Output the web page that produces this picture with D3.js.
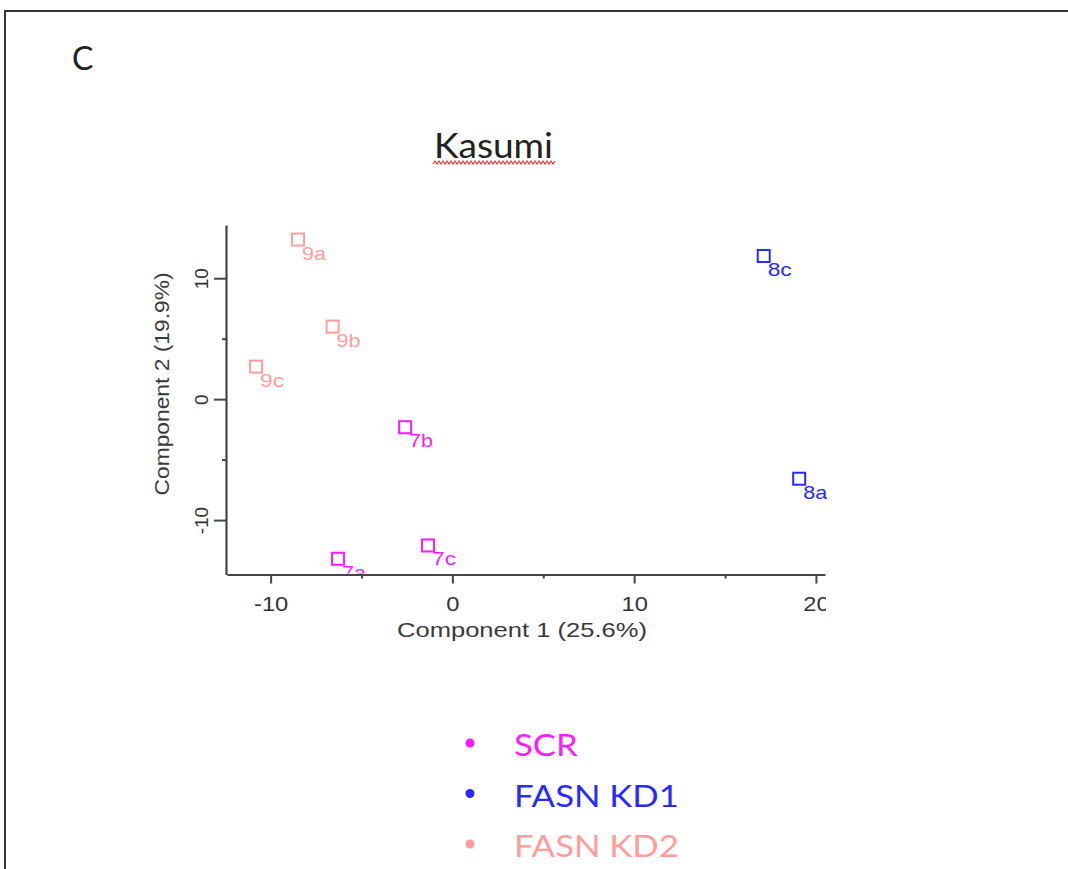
<!DOCTYPE html>
<html>
<head>
<meta charset="utf-8">
<script src="https://cdn.jsdelivr.net/npm/d3@7"></script>
<style>
  body { margin: 0; background: #fff; }
  svg { display: block; }
</style>
</head>
<body>
<div id="chart"></div>
<script>
// PCA scores, Kasumi cells
const sampleNames = ['7a', '7b', '7c', '8a', '8c', '9a', '9b', '9c'];
const sampleGroups = ['SCR', 'SCR', 'SCR', 'FASN KD1', 'FASN KD1', 'FASN KD2', 'FASN KD2', 'FASN KD2'];
const comp1 = [-6.29, -2.6, -1.34, 19.08, 17.13, -8.49, -6.59, -10.8];
const comp2 = [-13.2, -2.32, -12.1, -6.58, 11.84, 13.2, 6.0, 2.69];

const groupNames = ['SCR', 'FASN KD1', 'FASN KD2'];
const groupColors = ['#ff1aff', '#2a2aff', '#ff9d9d'];

const xMajorTicks = [-10, 0, 10, 20];
const xMinorTicks = [-5, 5, 15];
const yMajorTicks = [-10, 0, 10];
const yMinorTicks = [-5, 5];

const width = 1068, height = 869;
const axisColor = '#454545';
const tickFmt = d => String(d); // plain hyphen minus, like the original

// the source image is a little stretched sideways; widen text to match
function stretch(sel, k) {
    sel.each(function () {
        const len = this.getComputedTextLength();
        d3.select(this).attr('textLength', len * k).attr('lengthAdjust', 'spacingAndGlyphs');
    });
}

const svg = d3.select('#chart').append('svg')
    .attr('width', width)
    .attr('height', height);

svg.append('rect').attr('width', width).attr('height', height).attr('fill', '#fff');

// panel frame (only top and left edges are visible)
svg.append('path')
    .attr('d', `M5,${height} V11 H${width}`)
    .attr('fill', 'none')
    .attr('stroke', '#333')
    .attr('stroke-width', 2);

// panel letter
svg.append('text')
    .attr('x', 72).attr('y', 70)
    .attr('font-family', 'Lato, "Open Sans", sans-serif')
    .attr('font-size', 32)
    .attr('fill', '#222')
    .text('C');

// title with spell-check squiggle
svg.append('text')
    .attr('x', 434).attr('y', 158)
    .attr('font-family', 'Lato, "Open Sans", sans-serif')
    .attr('font-size', 34)
    .attr('textLength', 119)
    .attr('lengthAdjust', 'spacingAndGlyphs')
    .attr('fill', '#222')
    .text('Kasumi');

const squiggle = d3.range(433, 557, 2).map((px, i) => [px, i % 2 ? 161 : 164]);
svg.append('path')
    .attr('d', d3.line()(squiggle))
    .attr('fill', 'none')
    .attr('stroke', '#e5383b')
    .attr('stroke-width', 1.2);

// scales
const x = d3.scaleLinear().domain([-12.4, 20.5]).range([227, 825]);
const y = d3.scaleLinear().domain([-14.5, 14.4]).range([574.5, 225]);
const color = d3.scaleOrdinal().domain(groupNames).range(groupColors);

const plotLeft = x.range()[0], plotRight = x.range()[1];
const plotTop = y.range()[1], plotBottom = y.range()[0];

svg.append('clipPath').attr('id', 'plot-clip')
    .append('rect')
    .attr('x', plotLeft).attr('y', plotTop - 20)
    .attr('width', plotRight - plotLeft + 2)
    .attr('height', plotBottom - plotTop + 19);

svg.append('clipPath').attr('id', 'xaxis-clip')
    .append('rect')
    .attr('x', 0).attr('y', -20)
    .attr('width', plotRight + 1).attr('height', height);

// x axis
const xAxisG = svg.append('g')
    .attr('transform', `translate(0,${plotBottom})`)
    .attr('clip-path', 'url(#xaxis-clip)');

xAxisG.append('g')
    .call(d3.axisBottom(x).tickValues(xMajorTicks).tickSize(9).tickSizeOuter(0).tickFormat(tickFmt))
    .call(g => g.select('.domain').attr('stroke', axisColor).attr('stroke-width', 2.2))
    .call(g => g.selectAll('.tick line').attr('stroke', axisColor).attr('stroke-width', 2))
    .call(g => g.selectAll('.tick text')
        .attr('y', 36).attr('dy', 0)
        .attr('font-family', 'Arial, "Liberation Sans", sans-serif')
        .attr('font-size', 21)
        .attr('fill', '#333')
        .call(stretch, 1.13));

xAxisG.append('g')
    .call(d3.axisBottom(x).tickValues(xMinorTicks).tickSize(4).tickFormat(''))
    .call(g => g.select('.domain').remove())
    .call(g => g.selectAll('.tick line').attr('stroke', axisColor).attr('stroke-width', 2));

svg.append('text')
    .attr('x', 522).attr('y', 637)
    .attr('text-anchor', 'middle')
    .attr('font-family', 'Arial, "Liberation Sans", sans-serif')
    .attr('font-size', 21)
    .attr('textLength', 250)
    .attr('lengthAdjust', 'spacingAndGlyphs')
    .attr('fill', '#3a3a3a')
    .text('Component 1 (25.6%)');

// y axis
const yAxisG = svg.append('g').attr('transform', `translate(${plotLeft - 1},0)`);

yAxisG.append('g')
    .call(d3.axisLeft(y).tickValues(yMajorTicks).tickSize(12).tickSizeOuter(0).tickFormat(tickFmt))
    .call(g => g.select('.domain').attr('stroke', axisColor).attr('stroke-width', 2.2))
    .call(g => g.selectAll('.tick line').attr('stroke', axisColor).attr('stroke-width', 2))
    .call(g => g.selectAll('.tick text')
        .attr('transform', 'rotate(-90)')
        .attr('x', 0).attr('y', -18).attr('dy', 0)
        .attr('text-anchor', 'middle')
        .attr('font-family', 'Arial, "Liberation Sans", sans-serif')
        .attr('font-size', 19)
        .attr('fill', '#333'));

yAxisG.append('g')
    .call(d3.axisLeft(y).tickValues(yMinorTicks).tickSize(4).tickFormat(''))
    .call(g => g.select('.domain').remove())
    .call(g => g.selectAll('.tick line').attr('stroke', axisColor).attr('stroke-width', 2));

svg.append('text')
    .attr('transform', 'translate(169,384) rotate(-90)')
    .attr('text-anchor', 'middle')
    .attr('font-family', 'Arial, "Liberation Sans", sans-serif')
    .attr('font-size', 20)
    .attr('textLength', 223)
    .attr('lengthAdjust', 'spacingAndGlyphs')
    .attr('fill', '#3a3a3a')
    .text('Component 2 (19.9%)');

// points
const points = sampleNames.map((name, i) => ({
    name, group: sampleGroups[i], pc1: comp1[i], pc2: comp2[i]
}));

const markSize = 12;
const ptG = svg.append('g').attr('clip-path', 'url(#plot-clip)');

ptG.selectAll('rect.pt')
    .data(points)
    .enter().append('rect')
    .attr('class', 'pt')
    .attr('x', d => x(d.pc1) - markSize / 2)
    .attr('y', d => y(d.pc2) - markSize / 2)
    .attr('width', markSize)
    .attr('height', markSize)
    .attr('fill', 'none')
    .attr('stroke', d => color(d.group))
    .attr('stroke-width', 2);

ptG.selectAll('text.pt-label')
    .data(points)
    .enter().append('text')
    .attr('class', 'pt-label')
    .attr('x', d => x(d.pc1) + 4)
    .attr('y', d => y(d.pc2) + 20)
    .attr('font-family', 'Arial, "Liberation Sans", sans-serif')
    .attr('font-size', 18)
    .attr('textLength', 24)
    .attr('lengthAdjust', 'spacingAndGlyphs')
    .attr('fill', d => color(d.group))
    .text(d => d.name);

// legend
const legend = svg.append('g').attr('transform', 'translate(470,743)');
const legendRow = legend.selectAll('g')
    .data(groupNames)
    .enter().append('g')
    .attr('transform', (d, i) => `translate(0,${i * 50.5})`);

legendRow.append('circle')
    .attr('r', 4.5)
    .attr('fill', d => color(d));

legendRow.append('text')
    .attr('x', 44).attr('y', 13)
    .attr('font-family', 'Lato, "Open Sans", sans-serif')
    .attr('font-size', 31)
    .attr('fill', d => color(d))
    .text(d => d)
    .call(stretch, 1.12);
</script>
</body>
</html>
